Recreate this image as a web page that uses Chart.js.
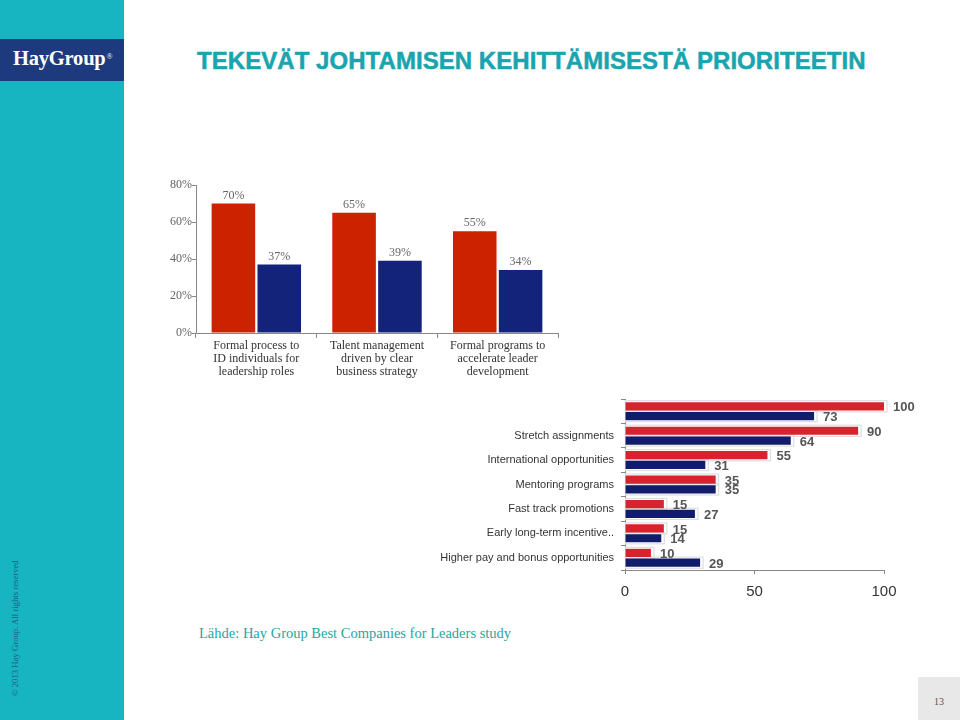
<!DOCTYPE html>
<html>
<head>
<meta charset="utf-8">
<script src="https://cdn.jsdelivr.net/npm/chart.js@4/dist/chart.umd.min.js"></script>
<style>
  html,body{margin:0;padding:0;}
  body{width:960px;height:720px;position:relative;overflow:hidden;background:#fff;font-family:"Liberation Sans",Arial,sans-serif;}
  #side{position:absolute;left:0;top:0;width:124px;height:720px;background:#17b4c1;}
  #logo{position:absolute;left:0;top:39px;width:124px;height:42px;background:#1e3a7e;}
  #logoText{position:absolute;left:13px;top:45px;color:#fff;font-family:"Liberation Serif",serif;font-weight:bold;font-size:20.5px;line-height:26px;white-space:nowrap;letter-spacing:-0.2px;}
  #logoText sup{font-size:8px;font-weight:normal;vertical-align:top;position:relative;top:-1px;margin-left:1px;}
  #copy{position:absolute;left:10px;top:696px;transform-origin:left top;transform:rotate(-90deg);white-space:nowrap;font-family:"Liberation Serif",serif;font-size:8.7px;line-height:10px;color:#1f5d85;}
  #title{position:absolute;left:197px;top:46px;font-weight:bold;font-size:24px;line-height:30px;color:#1aa4af;white-space:nowrap;-webkit-text-stroke:0.5px #1aa4af;letter-spacing:0.05px;}
  #source{position:absolute;left:199px;top:623px;font-family:"Liberation Serif",serif;font-size:14.5px;line-height:20px;color:#2aa39f;white-space:nowrap;}
  #page{position:absolute;left:918px;top:677px;width:42px;height:43px;background:#e8e8e8;text-align:center;font-family:"Liberation Serif",serif;font-size:10px;line-height:10px;color:#555;}
  #page span{position:absolute;left:0;width:42px;top:20px;}
  canvas{position:absolute;}
  #c1{left:150px;top:175px;}
  #c2{left:420px;top:390px;}
</style>
</head>
<body>
<div id="side"></div>
<div id="logo"></div>
<div id="logoText">HayGroup<sup>®</sup></div>
<div id="copy">© 2013 Hay Group. All rights reserved</div>
<div id="title">TEKEVÄT JOHTAMISEN KEHITTÄMISESTÄ PRIORITEETIN</div>
<div id="source">Lähde: Hay Group Best Companies for Leaders study</div>
<div id="page"><span>13</span></div>
<canvas id="c1" width="420" height="210"></canvas>
<canvas id="c2" width="520" height="220"></canvas>
<script>
// ---- Chart 1 data ----
const categories1 = [
  ["Formal process to", "ID individuals for", "leadership roles"],
  ["Talent management", "driven by clear", "business strategy"],
  ["Formal programs to", "accelerate leader", "development"]
];
const redValues1 = [70, 65, 55];
const blueValues1 = [37, 39, 34];
const yMax1 = 80;
const yStep1 = 20;

// ---- Chart 2 data ----
const categories2 = [
  "",
  "Stretch assignments",
  "International opportunities",
  "Mentoring programs",
  "Fast track promotions",
  "Early long-term incentive..",
  "Higher pay and bonus opportunities"
];
const redValues2 = [100, 90, 55, 35, 15, 15, 10];
const blueValues2 = [73, 64, 31, 35, 27, 14, 29];
const xMax2 = 100;
const xStep2 = 50;

const valueLabels = {
  id: 'valueLabels',
  beforeDatasetsDraw(chart, args, opts) {
    if (!opts.outline) return;
    const ctx = chart.ctx;
    ctx.save();
    ctx.strokeStyle = opts.outline;
    ctx.lineWidth = 1.2;
    chart.data.datasets.forEach((ds, i) => {
      chart.getDatasetMeta(i).data.forEach(bar => {
        const h = bar.height;
        ctx.strokeRect(bar.base, bar.y - h / 2 - 1.5, bar.x - bar.base + 3, h + 3);
      });
    });
    ctx.restore();
  },
  afterDatasetsDraw(chart, args, opts) {
    const ctx = chart.ctx;
    ctx.save();
    ctx.font = opts.font;
    ctx.fillStyle = opts.color;
    chart.data.datasets.forEach((ds, i) => {
      chart.getDatasetMeta(i).data.forEach((bar, j) => {
        const txt = ds.data[j] + (opts.suffix || '');
        if (opts.horizontal) {
          ctx.textAlign = 'left';
          ctx.textBaseline = 'middle';
          ctx.fillText(txt, bar.x + opts.offset, bar.y + (opts.dy || 0));
        } else {
          ctx.textAlign = 'center';
          ctx.textBaseline = 'bottom';
          ctx.fillText(txt, bar.x, bar.y - opts.offset);
        }
      });
    });
    ctx.restore();
  }
};

new Chart(document.getElementById('c1'), {
  type: 'bar',
  data: {
    labels: categories1,
    datasets: [
      { data: redValues1, backgroundColor: '#cc2200', categoryPercentage: 0.76, barPercentage: 0.95 },
      { data: blueValues1, backgroundColor: '#13237a', categoryPercentage: 0.76, barPercentage: 0.95 }
    ]
  },
  options: {
    responsive: false,
    animation: false,
    layout: { padding: { top: 10, right: 12, left: 0, bottom: 0 } },
    plugins: {
      legend: { display: false },
      tooltip: { enabled: false },
      valueLabels: { font: '12px "Liberation Serif", serif', color: '#666', suffix: '%', offset: 2 }
    },
    scales: {
      x: {
        grid: { drawOnChartArea: false, drawTicks: true, tickLength: 5, color: '#888' },
        border: { color: '#888', width: 1 },
        ticks: { color: '#333', padding: 2, maxRotation: 0, autoSkip: false,
          font: { family: '"Liberation Serif", serif', size: 12, lineHeight: 1.05 } },
        afterFit: s => { s.height = 52; }
      },
      y: {
        min: 0, max: yMax1,
        grid: { drawOnChartArea: false, drawTicks: true, tickLength: 4, color: '#888' },
        border: { color: '#888', width: 1 },
        ticks: { stepSize: yStep1, padding: 0, color: '#666', callback: v => v + '%',
          font: { family: '"Liberation Serif", serif', size: 12 } },
        afterFit: s => { s.width = 46; s.paddingTop = 0; s.paddingBottom = 0; }
      }
    }
  },
  plugins: [valueLabels]
});

new Chart(document.getElementById('c2'), {
  type: 'bar',
  data: {
    labels: categories2,
    datasets: [
      { data: redValues2, backgroundColor: '#d8232f', categoryPercentage: 0.8, barPercentage: 0.84 },
      { data: blueValues2, backgroundColor: '#111c6b', categoryPercentage: 0.8, barPercentage: 0.84 }
    ]
  },
  options: {
    indexAxis: 'y',
    responsive: false,
    animation: false,
    layout: { padding: { top: 9, right: 56, left: 0, bottom: 0 } },
    plugins: {
      legend: { display: false },
      tooltip: { enabled: false },
      valueLabels: { horizontal: true, font: 'bold 13px "Liberation Sans", Arial, sans-serif', color: '#555', offset: 9, dy: 1.5, outline: '#dedede' }
    },
    scales: {
      x: {
        min: 0, max: xMax2,
        grid: { drawOnChartArea: false, drawTicks: true, tickLength: 4, color: '#888' },
        border: { color: '#888', width: 1 },
        ticks: { stepSize: xStep2, padding: 9, color: '#333', maxRotation: 0,
          font: { family: '"Liberation Sans", Arial, sans-serif', size: 15 } },
        afterFit: s => { s.height = 40; s.paddingLeft = 0; s.paddingRight = 0; }
      },
      y: {
        grid: { drawOnChartArea: false, drawTicks: true, tickLength: 4, color: '#888' },
        border: { color: '#888', width: 1 },
        ticks: { padding: 7, color: '#333', autoSkip: false,
          font: { family: '"Liberation Sans", Arial, sans-serif', size: 11 } },
        afterFit: s => { s.width = 205; s.paddingTop = 0; s.paddingBottom = 0; }
      }
    }
  },
  plugins: [valueLabels]
});
</script>
</body>
</html>
